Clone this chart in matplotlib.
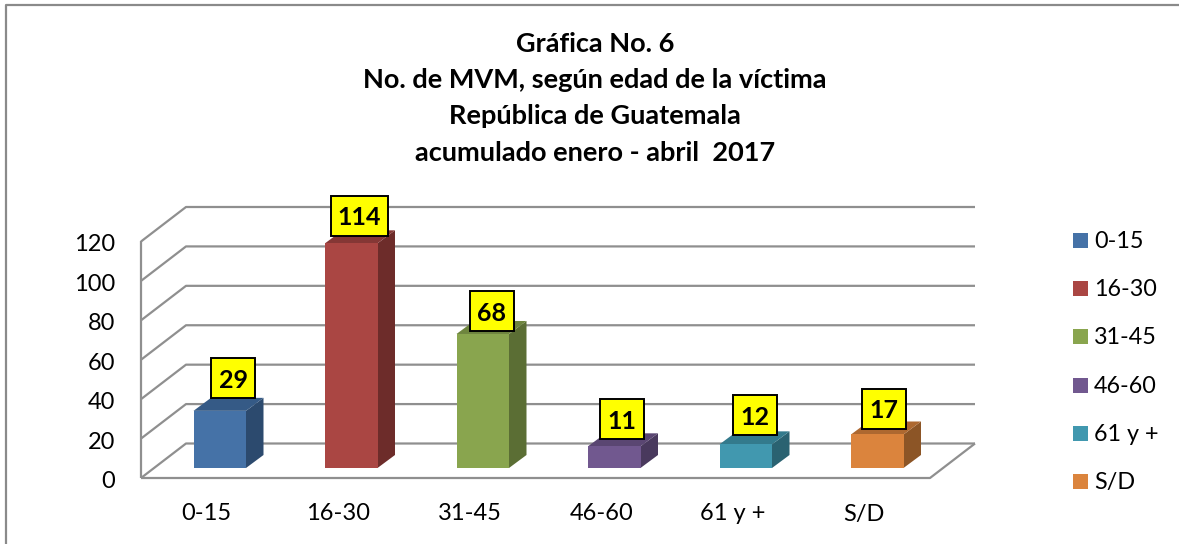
import matplotlib
matplotlib.use('Agg')
import matplotlib.pyplot as plt
from matplotlib.patches import Polygon, Rectangle

plt.rcParams['font.family'] = ['Lato', 'DejaVu Sans']

# ---------------- DATA ----------------
categories = ['0-15', '16-30', '31-45', '46-60', '61 y +', 'S/D']
values = [29, 114, 68, 11, 12, 17]
y_ticks = [0, 20, 40, 60, 80, 100, 120]
front_colors = ['#4572A7', '#AA4643', '#89A54E', '#71588F', '#4198AF', '#DB843D']
side_colors = ['#2C4A6E', '#6D2C2A', '#5B6E34', '#49395D', '#2A6271', '#8C5526']
top_colors = ['#355A86', '#853735', '#6E853E', '#5A4672', '#337A8C', '#AD6830']
title_lines = ['Gráfica No. 6', 'No. de MVM, según edad de la víctima',
               'República de Guatemala', 'acumulado enero - abril  2017']

W, H = 1179, 544
GRID = '#8F8F8F'

fig = plt.figure(figsize=(W / 100, H / 100), dpi=100)

# frame of the chart, open at the bottom and on the right
frame = dict(color='#8A8A8A', linewidth=1.6, transform=fig.transFigure)
fig.add_artist(plt.Line2D([5.5 / W, 5.5 / W, 1], [0, 1 - 5 / H, 1 - 5 / H], **frame))

# front plane of the 3d box, px: x 141-930, y 478-241.5
ax = fig.add_axes([141 / W, 1 - 478 / H, 789 / W, 236.5 / H])
ax.set_xlim(0, 6)
ax.set_ylim(0, 120)
ax.axis('off')

ux = 6 / 789      # data units per pixel
uy = 120 / 236.5


def poly(points, **kw):
    ax.add_patch(Polygon(points, closed=True, clip_on=False, **kw))


# ---------------- WALLS ----------------
wall_dx, wall_dy = 45 * ux, 34.5 * uy
line = dict(color=GRID, linewidth=1.6, clip_on=False, solid_capstyle='butt', zorder=1)
for t in y_ticks:
    ax.plot([0, wall_dx, 6 + wall_dx], [t, t + wall_dy, t + wall_dy], **line)
ax.plot([0, 0], [0, 120], **line)
ax.plot([0, 6, 6 + wall_dx], [0, 0, wall_dy], **line)

# ---------------- BARS ----------------
bar_w = 52.5 * ux
base_dx, base_dy = 13 * ux, 10 * uy
dep_x, dep_y = 17.5 * ux, 13 * uy
label_off = [(13.5, 32.5), (8, 27.5), (9, 22.5), (8, 27), (9, 29), (7, 25.5)]
for i, v in enumerate(values):
    x0 = i + 0.5 - bar_w / 2 + base_dx
    x1 = x0 + bar_w
    y0 = base_dy
    y1 = y0 + v
    poly([(x1, y0), (x1 + dep_x, y0 + dep_y), (x1 + dep_x, y1 + dep_y), (x1, y1)],
         facecolor=side_colors[i], edgecolor='none', zorder=3)
    poly([(x0, y1), (x1, y1), (x1 + dep_x, y1 + dep_y), (x0 + dep_x, y1 + dep_y)],
         facecolor=top_colors[i], edgecolor='none', zorder=3)
    ax.add_patch(Rectangle((x0, y0), bar_w, v, facecolor=front_colors[i],
                           edgecolor='none', clip_on=False, zorder=4))
    # yellow data label
    ox, oy = label_off[i]
    cx = (x0 + x1) / 2 + ox * ux
    cy = y1 + oy * uy
    box_w = (len(str(v)) * 12.5 + 19) * ux
    box_h = 40 * uy
    ax.add_patch(Rectangle((cx - box_w / 2, cy - box_h / 2), box_w, box_h, facecolor='#FFFF00',
                           edgecolor='black', linewidth=1.4, clip_on=False, zorder=5))
    ax.text(cx, cy, str(v), ha='center', va='center_baseline', fontsize=18,
            fontweight='bold', color='black', zorder=6)

# ---------------- AXIS TEXT ----------------
for t in y_ticks:
    ax.text(-26 * ux, t - 3.5 * uy, str(t), ha='right', va='center', fontsize=17, color='black')
for i, c in enumerate(categories):
    ax.text(i + 0.5, -36 * uy, c, ha='center', va='center', fontsize=17, color='black')

# ---------------- TITLE ----------------
for i, s in enumerate(title_lines):
    fig.text(595 / W, 1 - (43.5 + i * 36.5) / H, s, ha='center', va='center',
             fontsize=19.5, fontweight='bold', color='black')

# ---------------- LEGEND ----------------
for i, c in enumerate(categories):
    ypx = 240.5 + i * 48.2
    fig.add_artist(Rectangle((1073 / W, 1 - (ypx + 7.5) / H), 15 / W, 15 / H,
                             transform=fig.transFigure, facecolor=front_colors[i],
                             edgecolor='none'))
    fig.text(1094 / W, 1 - (ypx + 1) / H, c, ha='left', va='center', fontsize=16.8, color='black')

plt.savefig('out.png', dpi=100)
